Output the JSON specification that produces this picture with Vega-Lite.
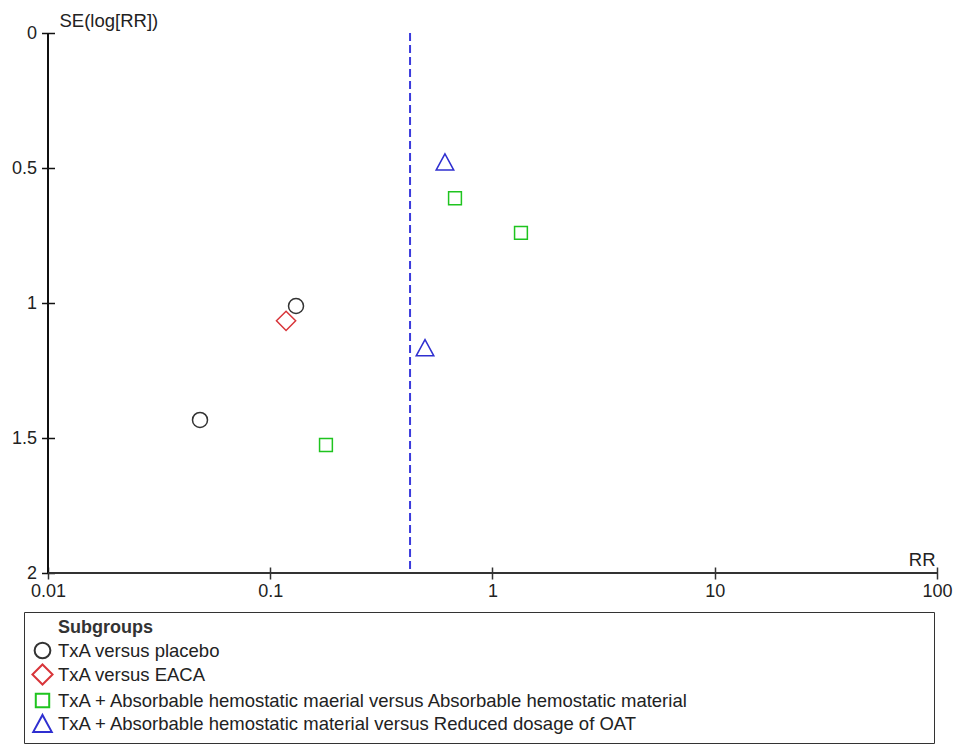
{
  "$schema": "https://vega.github.io/schema/vega-lite/v6.json",
  "width": 889,
  "height": 540,
  "autosize": {"type": "none"},
  "padding": {"left": 48, "top": 33, "right": 23, "bottom": 174},
  "background": "white",
  "config": {
    "view": {"stroke": null},
    "font": "Liberation Sans",
    "legend": {
      "orient": "none",
      "legendX": -24,
      "legendY": 579,
      "strokeColor": "#333333",
      "padding": 7,
      "titleFontSize": 18,
      "titleFontWeight": "bold",
      "titleColor": "#333333",
      "titlePadding": 2,
      "titleLimit": 1500,
      "labelFontSize": 18.5,
      "labelColor": "#222222",
      "labelLimit": 1500,
      "labelOffset": 4,
      "symbolSize": 440,
      "symbolStrokeWidth": 2,
      "rowPadding": -3.3
    }
  },
  "data": {
    "values": [
      {"group": "TxA versus placebo", "rr": 0.1306, "se": 1.011},
      {"group": "TxA versus placebo", "rr": 0.0483, "se": 1.433},
      {"group": "TxA versus EACA", "rr": 0.1178, "se": 1.066},
      {"group": "TxA + Absorbable hemostatic maerial versus Absorbable hemostatic material", "rr": 0.1781, "se": 1.526},
      {"group": "TxA + Absorbable hemostatic maerial versus Absorbable hemostatic material", "rr": 0.678, "se": 0.612},
      {"group": "TxA + Absorbable hemostatic maerial versus Absorbable hemostatic material", "rr": 1.343, "se": 0.74},
      {"group": "TxA + Absorbable hemostatic material versus Reduced dosage of OAT", "rr": 0.611, "se": 0.478},
      {"group": "TxA + Absorbable hemostatic material versus Reduced dosage of OAT", "rr": 0.497, "se": 1.166}
    ]
  },
  "layer": [
    {
      "mark": {"type": "point", "filled": false, "strokeWidth": 1.5, "size": 400, "opacity": 1},
      "encoding": {
        "x": {
          "field": "rr",
          "type": "quantitative",
          "scale": {"type": "log", "domain": [0.01, 100], "nice": false},
          "axis": {
            "values": [0.01, 0.1, 1, 10, 100],
            "format": "~g",
            "grid": false,
            "domain": false,
            "offset": -6,
            "labelFlush": false,
            "labelFontSize": 18,
            "labelColor": "#222222",
            "labelPadding": 3,
            "tickSize": 12,
            "tickColor": "#333333",
            "tickWidth": 1.5,
            "title": "RR",
            "titleFontSize": 18.5,
            "titleFontWeight": "normal",
            "titleColor": "#222222",
            "titleAlign": "right",
            "titleAnchor": "end",
            "titleBaseline": "alphabetic",
            "titleX": 887,
            "titleY": -2
          }
        },
        "y": {
          "field": "se",
          "type": "quantitative",
          "scale": {"domain": [0, 2], "reverse": true, "nice": false},
          "axis": {
            "values": [0, 0.5, 1, 1.5, 2],
            "format": "~g",
            "grid": false,
            "domain": false,
            "offset": -6.5,
            "labelFlush": false,
            "labelFontSize": 18,
            "labelColor": "#222222",
            "labelPadding": 5,
            "tickSize": 13,
            "tickColor": "#111111",
            "tickWidth": 1.5,
            "title": "SE(log[RR])",
            "titleFontSize": 18.5,
            "titleFontWeight": "normal",
            "titleColor": "#222222",
            "titleAngle": 0,
            "titleAlign": "left",
            "titleBaseline": "alphabetic",
            "titleX": 4.5,
            "titleY": -7
          }
        },
        "shape": {
          "field": "group",
          "type": "nominal",
          "title": "\u200b\u2003\u2002Subgroups\u2003\u2003\u2003\u2003\u2003\u2003\u2003\u2003\u2003\u2003\u2003\u2003\u2003\u2003\u2003\u2003\u2003\u2003\u2003\u2003\u2003\u2003\u2003\u2003\u2003\u2003\u2003\u2003\u2003\u2003\u2003\u2003\u2003\u2003\u2003\u2003\u2003\u2003\u2003\u2003\u2003\u2003\u2003\u200b",
          "scale": {
            "domain": [
              "TxA versus placebo",
              "TxA versus EACA",
              "TxA + Absorbable hemostatic maerial versus Absorbable hemostatic material",
              "TxA + Absorbable hemostatic material versus Reduced dosage of OAT"
            ],
            "range": [
              "M0.75,0A0.75,0.75 0 1,1 -0.75,0A0.75,0.75 0 1,1 0.75,0Z",
              "M-0.96,0L0,-0.96L0.96,0L0,0.96Z",
              "M-0.64,-0.64L0.64,-0.64L0.64,0.64L-0.64,0.64Z",
              "M0,-0.82L0.88,0.8L-0.88,0.8Z"
            ]
          }
        },
        "color": {
          "field": "group",
          "type": "nominal",
          "title": "\u200b\u2003\u2002Subgroups\u2003\u2003\u2003\u2003\u2003\u2003\u2003\u2003\u2003\u2003\u2003\u2003\u2003\u2003\u2003\u2003\u2003\u2003\u2003\u2003\u2003\u2003\u2003\u2003\u2003\u2003\u2003\u2003\u2003\u2003\u2003\u2003\u2003\u2003\u2003\u2003\u2003\u2003\u2003\u2003\u2003\u2003\u2003\u200b",
          "scale": {
            "domain": [
              "TxA versus placebo",
              "TxA versus EACA",
              "TxA + Absorbable hemostatic maerial versus Absorbable hemostatic material",
              "TxA + Absorbable hemostatic material versus Reduced dosage of OAT"
            ],
            "range": ["#333333", "#d8353a", "#1fc41f", "#2f2fd0"]
          }
        }
      }
    },
    {
      "mark": {"type": "rule", "color": "#111111", "strokeWidth": 1.5},
      "encoding": {"x": {"datum": 0.01, "type": "quantitative"}}
    },
    {
      "mark": {"type": "rule", "color": "#333333", "strokeWidth": 2},
      "encoding": {"y": {"datum": 2, "type": "quantitative"}}
    },
    {
      "data": {"values": [{"pooled": 0.4256}]},
      "mark": {"type": "rule", "color": "#3b3bdc", "strokeDash": [8, 4], "strokeWidth": 2},
      "encoding": {
        "x": {"field": "pooled", "type": "quantitative"}
      }
    }
  ]
}
